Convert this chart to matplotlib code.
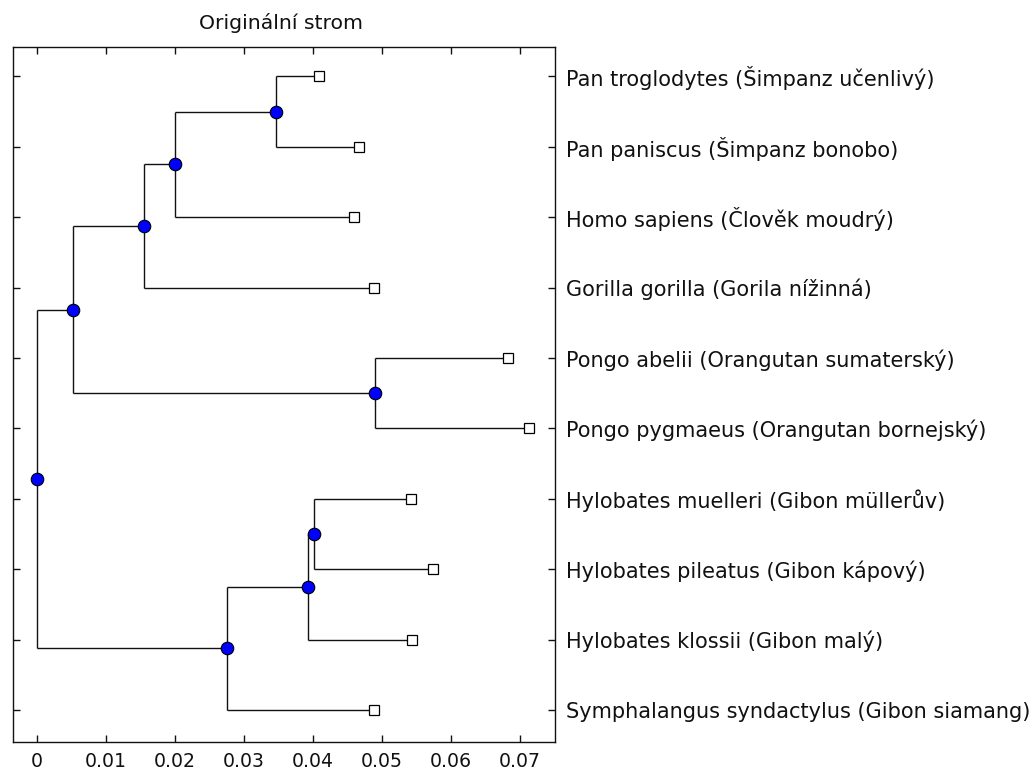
import matplotlib
matplotlib.use("Agg")
import matplotlib.pyplot as plt
import numpy as np

plt.rcParams['font.family'] = ['DejaVu Sans']

title = "Originální strom"

leaf_names = [
    "Pan troglodytes (Šimpanz učenlivý)",
    "Pan paniscus (Šimpanz bonobo)",
    "Homo sapiens (Člověk moudrý)",
    "Gorilla gorilla (Gorila nížinná)",
    "Pongo abelii (Orangutan sumaterský)",
    "Pongo pygmaeus (Orangutan bornejský)",
    "Hylobates muelleri (Gibon müllerův)",
    "Hylobates pileatus (Gibon kápový)",
    "Hylobates klossii (Gibon malý)",
    "Symphalangus syndactylus (Gibon siamang)",
]
# distance of each leaf from the root
leaf_dist = [0.0409, 0.0467, 0.0460, 0.0488, 0.0683, 0.0713, 0.0542, 0.0574, 0.0544, 0.0488]

# internal nodes (indices continue after leaves: 10, 11, ...)
node_children = [(0, 1), (10, 2), (11, 3), (4, 5), (12, 13), (6, 7), (15, 8), (16, 9), (14, 17)]
node_dist = [0.0346, 0.0200, 0.0156, 0.0490, 0.0052, 0.0402, 0.0393, 0.0275, 0.0]

x_ticks = [0, 0.01, 0.02, 0.03, 0.04, 0.05, 0.06, 0.07]
x_tick_labels = ["0", "0.01", "0.02", "0.03", "0.04", "0.05", "0.06", "0.07"]

# ---- layout ----
n_leaves = len(leaf_names)
xs = list(leaf_dist) + list(node_dist)
ys = list(range(1, n_leaves + 1)) + [0.0] * len(node_dist)
for i, (a, b) in enumerate(node_children):
    ys[n_leaves + i] = (ys[a] + ys[b]) / 2.0

W, H = 1035, 773
fig = plt.figure(figsize=(W / 100, H / 100), dpi=100)
left, right, top, bottom = 13.3, 554.5, 47.3, 742.0
ax = fig.add_axes([left / W, 1 - bottom / H, (right - left) / W, (bottom - top) / H])

line_kw = dict(color='#111111', lw=1.0, solid_capstyle='butt', zorder=2)
for i, (a, b) in enumerate(node_children):
    p = n_leaves + i
    px, py = xs[p], ys[p]
    ax.plot([px, px], [ys[a], ys[b]], **line_kw)
    for c in (a, b):
        ax.plot([px, xs[c]], [ys[c], ys[c]], **line_kw)

ax.plot(xs[n_leaves:], ys[n_leaves:], 'o', ms=9, mfc='#0000ff', mec='#000000', mew=0.8, zorder=4, ls='none')
ax.plot(xs[:n_leaves], ys[:n_leaves], 's', ms=7, mfc='white', mec='#000000', mew=0.9, zorder=4, ls='none')

ax.set_xlim(-0.00339, 0.07499)
ax.set_ylim(10.454, 0.588)

ax.set_xticks(x_ticks)
ax.set_xticklabels(x_tick_labels)
ax.set_yticks(list(range(1, n_leaves + 1)))
ax.set_yticklabels(leaf_names)

ax.tick_params(axis='y', which='both', left=True, right=True, labelleft=False, labelright=True,
               direction='in', length=5, width=1.0, pad=8.6, labelsize=15, colors='#111111')
ax.tick_params(axis='x', which='both', top=True, bottom=True, labeltop=False, labelbottom=True,
               direction='in', length=5, width=1.0, pad=7, labelsize=13.6, colors='#111111')
for s in ax.spines.values():
    s.set_linewidth(1.0)
    s.set_color('#111111')

fig.text(281 / W, 1 - 29 / H, title, ha='center', va='baseline', fontsize=14.7, color='#111111')

fig.savefig("out.png", dpi=100)
